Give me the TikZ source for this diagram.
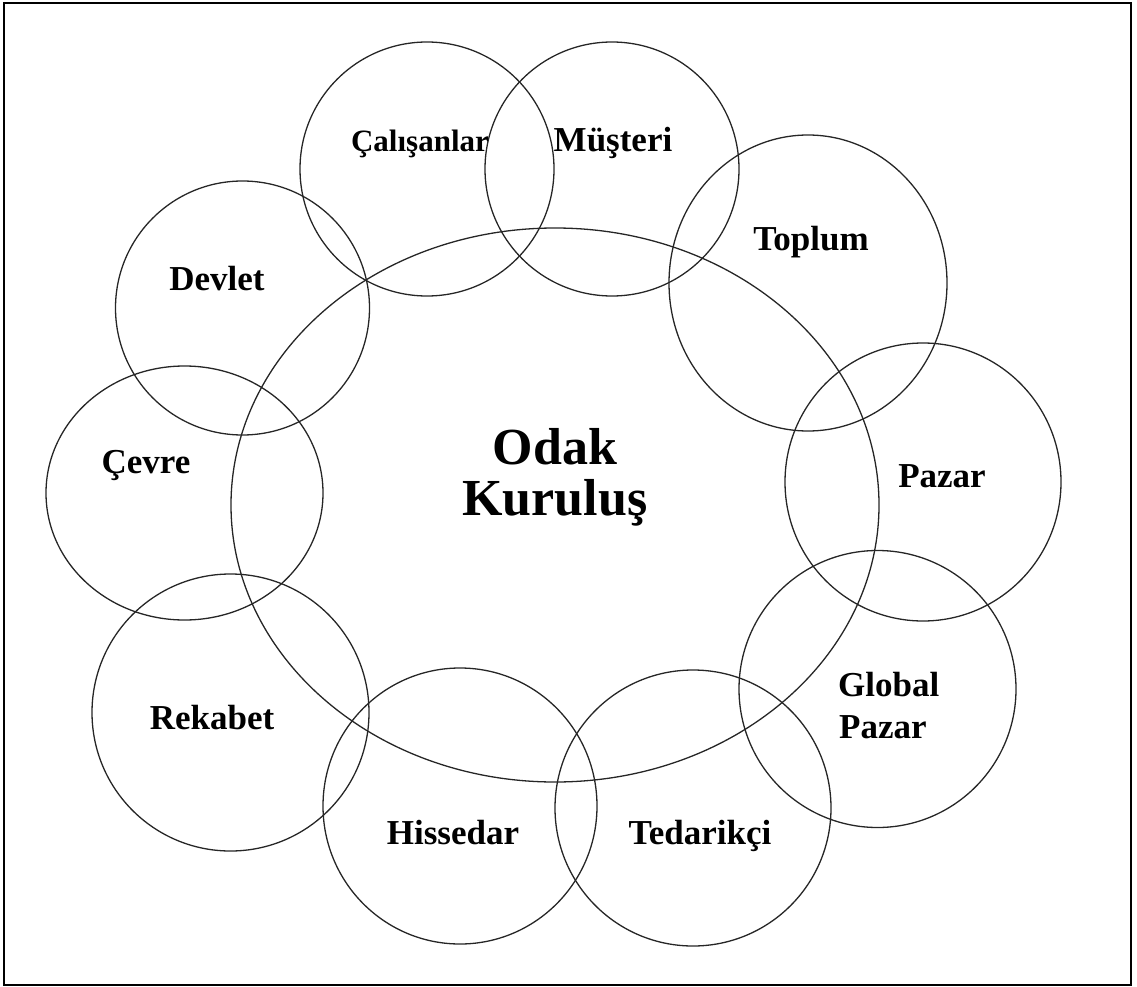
\documentclass[tikz,border=0pt]{standalone}
\usepackage{fontspec}
\setmainfont{Liberation Serif}
\begin{document}
\begin{tikzpicture}[x=1pt,y=-1pt,
  ring/.style={draw=black!85, line width=1.3pt},
  lbl/.style={font=\fontsize{35}{42}\selectfont\bfseries, anchor=base, inner sep=0pt},
  bigtxt/.style={font=\fontsize{52}{56}\selectfont\bfseries, anchor=base, inner sep=0pt},
]
\useasboundingbox (0,0) rectangle (1137,987);
% frame
\draw[line width=2.4pt] (4,3) rectangle (1131,985);

% central organisation
\draw[ring] (555,505) ellipse [x radius=324, y radius=277];

% stakeholder circles
\draw[ring] (427,169)   ellipse [x radius=127, y radius=127];   % employees
\draw[ring] (612,169)   ellipse [x radius=127, y radius=127];   % customers
\draw[ring] (808,283)   ellipse [x radius=139, y radius=148];   % society
\draw[ring] (923,482)   ellipse [x radius=138, y radius=139];   % market
\draw[ring] (877.5,689) ellipse [x radius=138.5, y radius=138.5]; % global market
\draw[ring] (693,808)   ellipse [x radius=138, y radius=138];   % suppliers
\draw[ring] (460,806)   ellipse [x radius=137, y radius=138];   % shareholders
\draw[ring] (230.5,712.5) ellipse [x radius=138.5, y radius=138.5]; % competition
\draw[ring] (184.5,493) ellipse [x radius=138.5, y radius=127]; % environment
\draw[ring] (242.5,308) ellipse [x radius=127, y radius=127];   % state

% labels
\node[bigtxt] (odak) at (555,464) {Odak};
\node[bigtxt] (kurulus) at (555,515) {Kuruluş};

\node[lbl, font=\fontsize{31}{36}\selectfont\bfseries] (calisan) at (420,152) {Çalışanlar};
\node[lbl] (musteri) at (613,152) {Müşteri};
\node[lbl] (toplum) at (811,250) {Toplum};
\node[lbl] (pazar) at (942,487) {Pazar};
\node[lbl, anchor=base west] (global) at (838,696) {Global};
\node[lbl, anchor=base west] (gpazar) at (839,738) {Pazar};
\node[lbl] (tedarik) at (700,844) {Tedarikçi};
\node[lbl] (hisse) at (453,844) {Hissedar};
\node[lbl] (rekabet) at (212,729) {Rekabet};
\node[lbl] (cevre) at (146,473) {Çevre};
\node[lbl] (devlet) at (217,290) {Devlet};
\end{tikzpicture}
\end{document}
